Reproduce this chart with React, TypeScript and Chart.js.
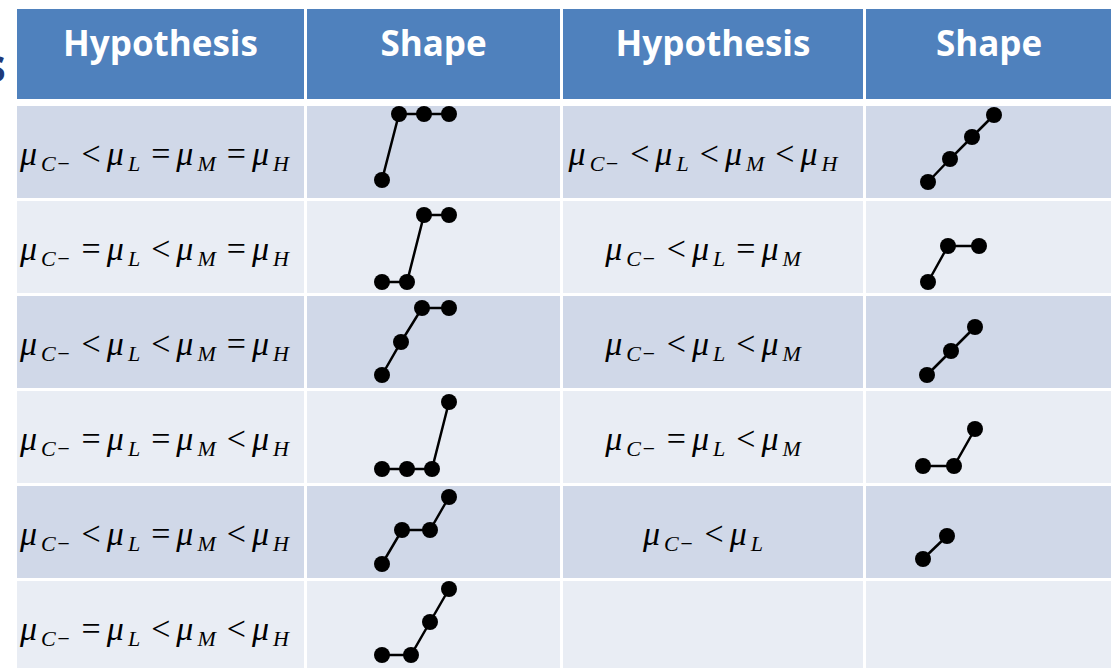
import React, { useEffect, useRef } from "react";
import { Chart, registerables } from "chart.js";

Chart.register(...registerables);

// ---------- data ----------
const headers = ["Hypothesis", "Shape", "Hypothesis", "Shape"];

const leftGroups = ["C−", "L", "M", "H"];
const leftRelations = [
  ["<", "=", "="],
  ["=", "<", "="],
  ["<", "<", "="],
  ["=", "=", "<"],
  ["<", "=", "<"],
  ["=", "<", "<"],
];

const rightGroups = [
  ["C−", "L", "M", "H"],
  ["C−", "L", "M"],
  ["C−", "L", "M"],
  ["C−", "L", "M"],
  ["C−", "L"],
];
const rightRelations = [
  ["<", "<", "<"],
  ["<", "="],
  ["<", "<"],
  ["=", "<"],
  ["<"],
];

// shape points: position along group axis and mean level
const leftShapeX = [
  [75, 92, 117, 142],
  [75, 100, 117, 142],
  [75, 94, 115, 142],
  [75, 100, 125, 142],
  [75, 95, 123, 142],
  [75, 104, 123, 142],
];
const leftShapeY = [
  [18, 84, 84, 84],
  [11, 11, 78, 78],
  [13, 46, 80, 80],
  [14, 14, 14, 81],
  [14, 48, 48, 81],
  [18, 18, 51, 84],
];
const rightShapeX = [
  [62, 84, 106, 128],
  [62, 82, 113],
  [61, 85, 109],
  [57, 88, 109],
  [57, 81],
];
const rightShapeY = [
  [16, 39, 61, 83],
  [11, 47, 47],
  [13, 37, 61],
  [17, 17, 54],
  [19, 42],
];

// ---------- layout ----------
const COL_LEFT = [17, 307, 563, 866];
const COL_W = [287, 253, 300, 246];
const HEADER_TOP = 9;
const HEADER_H = 90;
const ROW_TOP0 = 106;
const ROW_H = 92;
const ROW_STEP = 95;
const NROWS = 6;

const HEADER_BG = "#4F81BD";
const ROW_DARK = "#D0D8E8";
const ROW_LIGHT = "#E9EDF4";

function ShapeChart({ xs, ys, width, height }: { xs: number[]; ys: number[]; width: number; height: number }) {
  const ref = useRef<HTMLCanvasElement | null>(null);
  useEffect(() => {
    if (!ref.current) return;
    const chart = new Chart(ref.current, {
      type: "scatter",
      data: {
        datasets: [
          {
            data: xs.map((x, i) => ({ x, y: ys[i] })),
            showLine: true,
            borderColor: "#000",
            borderWidth: 2.5,
            pointRadius: 8,
            pointHoverRadius: 8,
            pointBackgroundColor: "#000",
            pointBorderColor: "#000",
            pointBorderWidth: 0,
            clip: false,
          } as any,
        ],
      },
      options: {
        animation: false,
        responsive: false,
        maintainAspectRatio: false,
        events: [],
        layout: { padding: 0, autoPadding: false } as any,
        plugins: { legend: { display: false }, tooltip: { enabled: false } },
        scales: {
          x: { type: "linear", display: false, min: 0, max: width },
          y: { type: "linear", display: false, min: 0, max: height },
        },
      },
    });
    return () => chart.destroy();
  }, [xs, ys, width, height]);
  return (
    <canvas
      ref={ref}
      width={width}
      height={height}
      style={{ position: "absolute", left: 0, top: 0, width, height }}
    />
  );
}

function Formula({ groups, rels }: { groups: string[]; rels: string[] }) {
  return (
    <span
      style={{
        fontFamily: '"Liberation Serif", "Times New Roman", serif',
        fontSize: 34,
        lineHeight: "34px",
        color: "#000",
        whiteSpace: "nowrap",
      }}
    >
      {groups.map((g, i) => (
        <React.Fragment key={i}>
          {i > 0 && <span style={{ margin: "0 6px 0 11px" }}>{rels[i - 1]}</span>}
          <span style={{ fontStyle: "italic" }}>μ</span>
          <span style={{ fontStyle: "italic", fontSize: 22, position: "relative", top: 6, marginLeft: 4 }}>{g}</span>
        </React.Fragment>
      ))}
    </span>
  );
}

export default function App() {
  const cells: React.ReactNode[] = [];

  headers.forEach((h, c) => {
    cells.push(
      <div
        key={"h" + c}
        style={{
          position: "absolute",
          left: COL_LEFT[c],
          top: HEADER_TOP,
          width: COL_W[c],
          height: HEADER_H,
          background: HEADER_BG,
        }}
      >
        <div
          style={{
            position: "absolute",
            left: 0,
            right: 0,
            top: 10,
            textAlign: "center",
            color: "#fff",
            fontFamily: '"Open Sans", sans-serif',
            fontWeight: 700,
            fontSize: 35,
            lineHeight: "48px",
          }}
        >
          {h}
        </div>
      </div>
    );
  });

  for (let r = 0; r < NROWS; r++) {
    const top = ROW_TOP0 + r * ROW_STEP;
    const bg = r % 2 === 0 ? ROW_DARK : ROW_LIGHT;
    for (let c = 0; c < 4; c++) {
      let content: React.ReactNode = null;
      if (c === 0) {
        content = (
          <div style={{ position: "absolute", left: 3, top: 31 }}>
            <Formula groups={leftGroups} rels={leftRelations[r]} />
          </div>
        );
      } else if (c === 1) {
        content = <ShapeChart xs={leftShapeX[r]} ys={leftShapeY[r]} width={COL_W[1]} height={ROW_H} />;
      } else if (c === 2 && r < rightGroups.length) {
        content = (
          <div style={{ position: "absolute", left: 0, right: 20, top: 31, textAlign: "center" }}>
            <Formula groups={rightGroups[r]} rels={rightRelations[r]} />
          </div>
        );
      } else if (c === 3 && r < rightShapeX.length) {
        content = <ShapeChart xs={rightShapeX[r]} ys={rightShapeY[r]} width={COL_W[3]} height={ROW_H} />;
      }
      cells.push(
        <div
          key={r + "-" + c}
          style={{
            position: "absolute",
            left: COL_LEFT[c],
            top,
            width: COL_W[c],
            height: ROW_H,
            background: bg,
          }}
        >
          {content}
        </div>
      );
    }
  }

  return (
    <div
      style={{
        position: "fixed",
        left: 0,
        top: 0,
        width: 1111,
        height: 668,
        overflow: "hidden",
        background: "#fff",
      }}
    >
      <div
        style={{
          position: "absolute",
          left: -17,
          top: 33,
          fontFamily: '"Open Sans", sans-serif',
          fontWeight: 700,
          fontSize: 46,
          color: "#1F3A7A",
        }}
      >
        s
      </div>
      {cells}
    </div>
  );
}
